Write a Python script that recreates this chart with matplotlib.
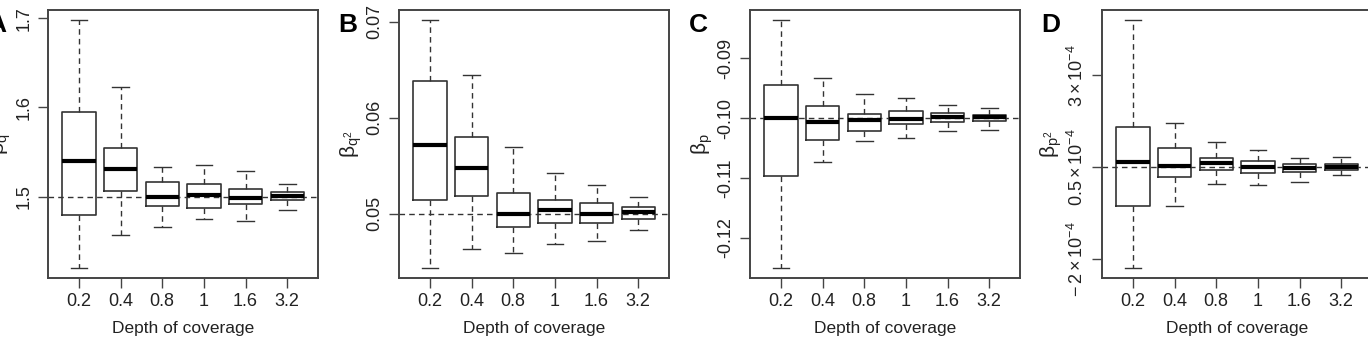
import numpy as np
import matplotlib
matplotlib.use("Agg")
import matplotlib.pyplot as plt

plt.rcParams['font.family'] = ['Liberation Sans', 'DejaVu Sans']
plt.rcParams['mathtext.fontset'] = 'custom'
plt.rcParams['mathtext.rm'] = 'Liberation Sans'
plt.rcParams['mathtext.it'] = 'Liberation Sans'
plt.rcParams['mathtext.bf'] = 'Liberation Sans:bold'

# depth of coverage categories
depths = ["0.2", "0.4", "0.8", "1", "1.6", "3.2"]

# box stats per panel: whisker low, Q1, median, Q3, whisker high
a_lo = [1.420, 1.457, 1.466, 1.475, 1.473, 1.485]
a_q1 = [1.4795, 1.506, 1.4896, 1.487, 1.492, 1.496]
a_med = [1.540, 1.531, 1.500, 1.502, 1.499, 1.5007]
a_q3 = [1.595, 1.554, 1.516, 1.5146, 1.5086, 1.5056]
a_hi = [1.698, 1.623, 1.533, 1.536, 1.529, 1.514]

b_lo = [0.04432, 0.04627, 0.04585, 0.04679, 0.04718, 0.04829]
b_q1 = [0.05139, 0.05185, 0.04864, 0.04902, 0.04906, 0.04944]
b_med = [0.05714, 0.05477, 0.04993, 0.05038, 0.04993, 0.05014]
b_q3 = [0.06376, 0.05798, 0.05213, 0.05136, 0.05108, 0.05073]
b_hi = [0.07017, 0.06439, 0.05697, 0.05422, 0.05293, 0.05174]

c_lo = [-0.12503, -0.10737, -0.10385, -0.10335, -0.10207, -0.10201]
c_q1 = [-0.10961, -0.10358, -0.10218, -0.10095, -0.10056, -0.1005]
c_med = [-0.1000, -0.10067, -0.10034, -0.10006, -0.09983, -0.09978]
c_q3 = [-0.09453, -0.09799, -0.09927, -0.09872, -0.09911, -0.09939]
c_hi = [-0.08358, -0.09324, -0.09603, -0.09665, -0.09782, -0.09827]

# panel D values in units of 1e-4
d_lo = [-2.255, -0.577, 0.044, -0.002, 0.098, 0.272]
d_q1 = [-0.558, 0.235, 0.409, 0.327, 0.372, 0.409]
d_med = [0.646, 0.527, 0.600, 0.491, 0.482, 0.491]
d_q3 = [1.595, 1.029, 0.737, 0.655, 0.582, 0.573]
d_hi = [4.505, 1.695, 1.175, 0.974, 0.755, 0.783]

true_vals = [1.5, 0.05, -0.10, 0.5]
letters = ["A", "B", "C", "D"]
ylabels = [r"$\beta_q$", r"$\beta_{q^2}$", r"$\beta_p$", r"$\beta_{p^2}$"]
yticks = [[1.5, 1.6, 1.7], [0.05, 0.06, 0.07], [-0.12, -0.11, -0.10, -0.09], [-2, 0.5, 3]]
yticklabels = [["1.5", "1.6", "1.7"], ["0.05", "0.06", "0.07"],
               ["-0.12", "-0.11", "-0.10", "-0.09"],
               [r"$-\,2\times10^{-4}$", r"$0.5\times10^{-4}$", r"$3\times10^{-4}$"]]

panels = [(a_lo, a_q1, a_med, a_q3, a_hi), (b_lo, b_q1, b_med, b_q3, b_hi),
          (c_lo, c_q1, c_med, c_q3, c_hi), (d_lo, d_q1, d_med, d_q3, d_hi)]

W, H = 1368, 341
fig = plt.figure(figsize=(W / 100, H / 100), dpi=100)
lefts = [48, 399, 750, 1102]
txt = "#222222"

for i, p in enumerate(panels):
    lo, q1, med, q3, hi = p
    ax = fig.add_axes([lefts[i] / W, 63 / H, 270 / W, 268 / H])
    stats = []
    for k in range(len(depths)):
        stats.append(dict(med=med[k], q1=q1[k], q3=q3[k], whislo=lo[k], whishi=hi[k], fliers=[]))
    ax.bxp(stats, positions=np.arange(1, 7), widths=0.8, capwidths=0.4, showfliers=False,
           boxprops=dict(color="#333333", linewidth=1.2),
           medianprops=dict(color="black", linewidth=3.0, solid_capstyle="butt"),
           whiskerprops=dict(color="#333333", linewidth=1.0, linestyle=(0, (4, 3))),
           capprops=dict(color="#333333", linewidth=1.0))
    ax.axhline(true_vals[i], color="#333333", linewidth=1.0, linestyle=(0, (4, 3)), zorder=0)
    rng = max(hi) - min(lo)
    ax.set_ylim(min(lo) - 0.04 * rng, max(hi) + 0.04 * rng)
    ax.set_xlim(0.26, 6.74)
    ax.set_xticks(np.arange(1, 7))
    ax.set_xticklabels(depths, fontsize=13, color=txt)
    ax.set_yticks(yticks[i])
    ax.set_yticklabels(yticklabels[i], fontsize=13, color=txt, rotation=90, va="center")
    ax.tick_params(length=7, width=1.0, color="#444444", pad=4)
    for s in ax.spines.values():
        s.set_linewidth(1.4)
        s.set_color("#444444")
    ax.set_xlabel("Depth of coverage", fontsize=12.5, color=txt, labelpad=8)
    ax.set_ylabel(ylabels[i], fontsize=15, color=txt, labelpad=2)
    ax.text(-0.19, 0.99, letters[i], transform=ax.transAxes, fontsize=19,
            fontweight="bold", color="black", ha="center", va="top")

fig.savefig("out.png", dpi=100)
